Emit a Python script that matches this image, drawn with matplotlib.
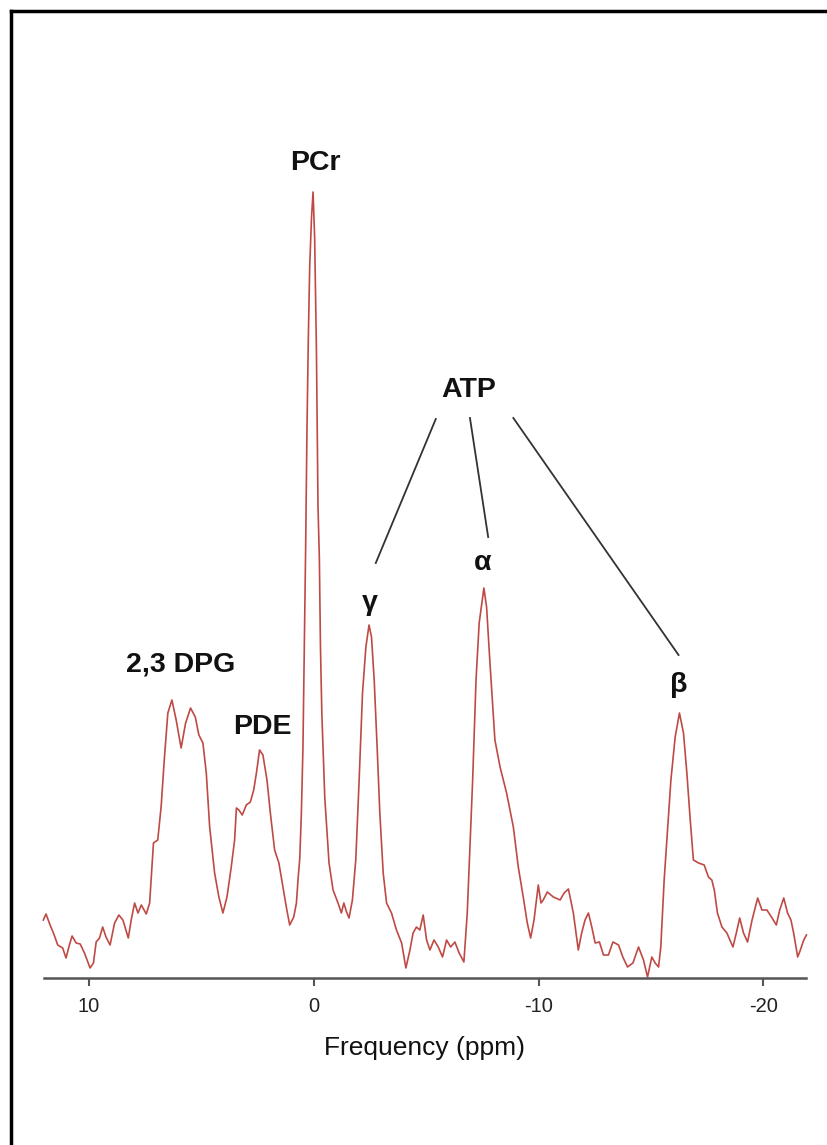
import numpy as np
import matplotlib.pyplot as plt
from matplotlib.lines import Line2D

plt.rcParams['font.family'] = ['Liberation Sans', 'DejaVu Sans']

# 31P spectrum: chemical shift (ppm) and signal (a.u.)
ppm = [12.03, 11.91, 11.73, 11.58, 11.39, 11.17, 11.02, 10.87, 10.75, 10.57,
       10.39, 10.20, 9.95, 9.80, 9.68, 9.53, 9.39, 9.24, 9.06, 8.86,
       8.67, 8.49, 8.25, 8.12, 7.97, 7.82, 7.67, 7.45, 7.30, 7.13,
       6.94, 6.79, 6.64, 6.49, 6.31, 6.12, 5.90, 5.70, 5.48, 5.27,
       5.11, 4.93, 4.78, 4.63, 4.41, 4.22, 4.04, 3.86, 3.67, 3.52,
       3.44, 3.33, 3.18, 3.00, 2.82, 2.67, 2.55, 2.41, 2.26, 2.08,
       1.93, 1.74, 1.55, 1.37, 1.22, 1.07, 0.89, 0.77, 0.70, 0.62,
       0.55, 0.48, 0.42, 0.36, 0.30, 0.24, 0.18, 0.10, 0.03, -0.04,
       -0.12, -0.19, -0.25, -0.30, -0.36, -0.49, -0.68, -0.86, -1.08, -1.23,
       -1.34, -1.46, -1.57, -1.72, -1.87, -2.02, -2.17, -2.32, -2.46, -2.57,
       -2.69, -2.82, -2.94, -3.09, -3.24, -3.46, -3.68, -3.91, -4.10, -4.28,
       -4.42, -4.57, -4.72, -4.87, -5.02, -5.17, -5.35, -5.54, -5.73, -5.91,
       -6.09, -6.28, -6.47, -6.68, -6.83, -6.95, -7.07, -7.22, -7.36, -7.57,
       -7.69, -7.84, -8.06, -8.29, -8.58, -8.88, -9.10, -9.32, -9.50, -9.65,
       -9.80, -9.99, -10.11, -10.21, -10.39, -10.66, -10.96, -11.14, -11.33, -11.55,
       -11.77, -11.92, -12.07, -12.22, -12.37, -12.52, -12.71, -12.89, -13.11, -13.31,
       -13.56, -13.75, -13.96, -14.20, -14.45, -14.67, -14.85, -15.04, -15.19, -15.34,
       -15.44, -15.59, -15.74, -15.89, -16.08, -16.27, -16.45, -16.60, -16.75, -16.89,
       -17.12, -17.37, -17.56, -17.71, -17.82, -17.96, -18.16, -18.38, -18.65, -18.80,
       -18.95, -19.12, -19.30, -19.50, -19.75, -19.94, -20.16, -20.39, -20.58, -20.73,
       -20.91, -21.08, -21.23, -21.35, -21.53, -21.65, -21.80, -21.92]
signal = [58, 64, 53, 45, 33, 30, 20, 33, 42, 35,
          34, 25, 10, 15, 36, 40, 51, 41, 33, 55,
          63, 58, 40, 58, 75, 65, 73, 64, 75, 135,
          138, 171, 221, 265, 278, 258, 230, 255, 270, 261,
          243, 235, 205, 151, 105, 81, 65, 81, 111, 138,
          170, 168, 163, 173, 176, 188, 205, 228, 223, 198,
          165, 128, 115, 91, 71, 53, 61, 75, 98, 120,
          165, 230, 330, 430, 550, 640, 711, 760, 786, 741,
          628, 471, 420, 330, 265, 181, 115, 88, 75, 65,
          75, 66, 60, 78, 118, 198, 285, 331, 353, 341,
          298, 231, 165, 105, 75, 65, 48, 35, 10, 28,
          45, 51, 48, 63, 38, 28, 38, 31, 21, 38,
          31, 36, 25, 16, 65, 131, 198, 298, 355, 390,
          371, 315, 238, 211, 185, 151, 111, 81, 55, 40,
          58, 93, 75, 78, 86, 81, 78, 85, 89, 65,
          28, 45, 58, 65, 51, 35, 36, 23, 23, 36,
          33, 21, 11, 15, 31, 18, 1, 21, 15, 11,
          31, 98, 148, 198, 241, 265, 245, 205, 158, 118,
          115, 113, 101, 98, 88, 65, 51, 45, 31, 45,
          60, 45, 36, 58, 80, 68, 68, 60, 53, 68,
          80, 65, 58, 45, 21, 28, 38, 43]

# peak labels: text, ppm, height
peak_labels = ['PCr', 'ATP', '\u03b3', '\u03b1', '\u03b2', '2,3 DPG', 'PDE']
label_ppm = [-0.09, -6.90, -2.49, -7.53, -16.26, 5.92, 2.27]
label_y = [815, 588, 375, 415, 293, 313, 251]

# ATP connector lines: (ppm0, y0, ppm1, y1)
atp_lines = [(-5.43, 559, -2.76, 415),
             (-6.95, 560, -7.76, 441),
             (-8.88, 560, -16.23, 323)]

xticks = [10, 0, -10, -20]

fig = plt.figure(figsize=(8.28, 11.45), dpi=100)
ax = fig.add_axes([44 / 828, 1 - 978 / 1145, (806 - 44) / 828, 878 / 1145])

ax.plot(ppm, signal, color='#bf4a45', lw=1.2, clip_on=False)

for txt, px, py in zip(peak_labels, label_ppm, label_y):
    ax.text(px, py, txt, ha='center', va='center', fontsize=20.5,
            fontweight='bold', color='#111111')

for x0, y0, x1, y1 in atp_lines:
    ax.plot([x0, x1], [y0, y1], color='#333333', lw=1.3)

ax.set_xlim(12.0, -21.9)
ax.set_ylim(0, 878)
ax.set_xticks(xticks)
ax.set_xticklabels([str(t) for t in xticks])
ax.set_yticks([])
for side in ['top', 'right', 'left']:
    ax.spines[side].set_visible(False)
ax.spines['bottom'].set_color('#555555')
ax.spines['bottom'].set_linewidth(1.8)
ax.tick_params(axis='x', direction='out', length=6, width=1.5,
               color='#555555', labelsize=14.5, labelcolor='#222222', pad=8)
ax.set_xlabel('Frequency (ppm)', fontsize=19, color='#111111', labelpad=14)

# black frame round the figure (left and top edges visible)
fig.add_artist(Line2D([11 / 828, 11 / 828], [0, 1 - 11 / 1145],
                      transform=fig.transFigure, color='black', lw=2.5))
fig.add_artist(Line2D([11 / 828, 1], [1 - 11 / 1145, 1 - 11 / 1145],
                      transform=fig.transFigure, color='black', lw=2.5))

fig.savefig('out.png', dpi=100)
